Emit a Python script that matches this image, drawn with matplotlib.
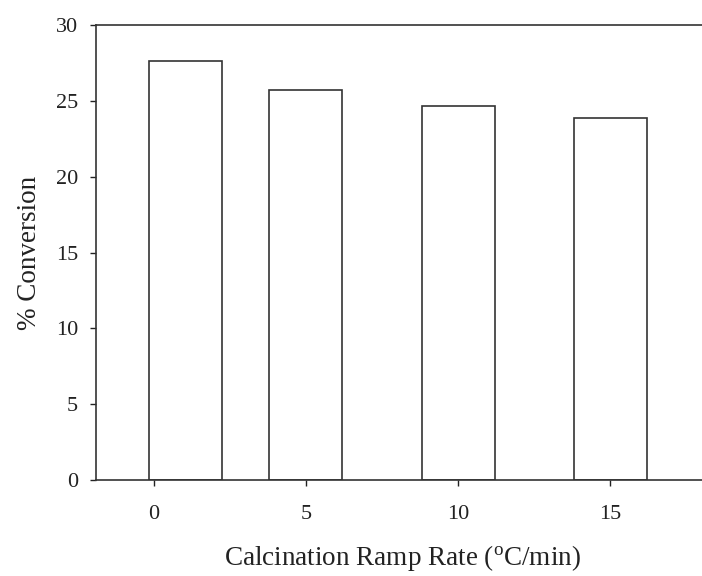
import matplotlib
matplotlib.use("Agg")
import matplotlib.pyplot as plt

categories = ["0", "5", "10", "15"]
conversion = [27.6, 25.7, 24.65, 23.9]
y_ticks = [0, 5, 10, 15, 20, 25, 30]

# visual shift of the first bar relative to its tick in the original
bar_shift = [0.21, 0, 0, 0]

plt.rcParams['font.family'] = ['Liberation Serif', 'DejaVu Serif']

fig = plt.figure(figsize=(7.02, 5.76), dpi=100)
ax = fig.add_axes([96/702, 1 - 480/576, (702 - 96)/702 + 0.01, (480 - 25)/576])

idx = list(range(len(categories)))
xs = [i + s for i, s in zip(idx, bar_shift)]
ax.bar(xs, conversion, width=0.48, facecolor='white', edgecolor='#333333', linewidth=1.2)

ax.set_xlim(-0.38, 3.65)
ax.set_ylim(0, 30)
ax.set_xticks(idx)
ax.set_xticklabels(categories)
ax.set_yticks(y_ticks)

for s in ['left', 'bottom', 'top']:
    ax.spines[s].set_color('#333333')
    ax.spines[s].set_linewidth(1.2)
ax.spines['right'].set_visible(False)

ax.tick_params(axis='y', direction='out', length=4, width=1, pad=9, labelsize=16, colors='#222222')
ax.tick_params(axis='x', direction='out', length=4, width=1, pad=14, labelsize=16, colors='#222222')

ax.set_xlabel('Calcination Ramp Rate ($\\mathregular{^{o}}$C/min)', fontsize=19.5, labelpad=14, color='#222222')
ax.set_ylabel('% Conversion', fontsize=19.5, labelpad=10, color='#222222')

fig.savefig('out.png', dpi=100)
